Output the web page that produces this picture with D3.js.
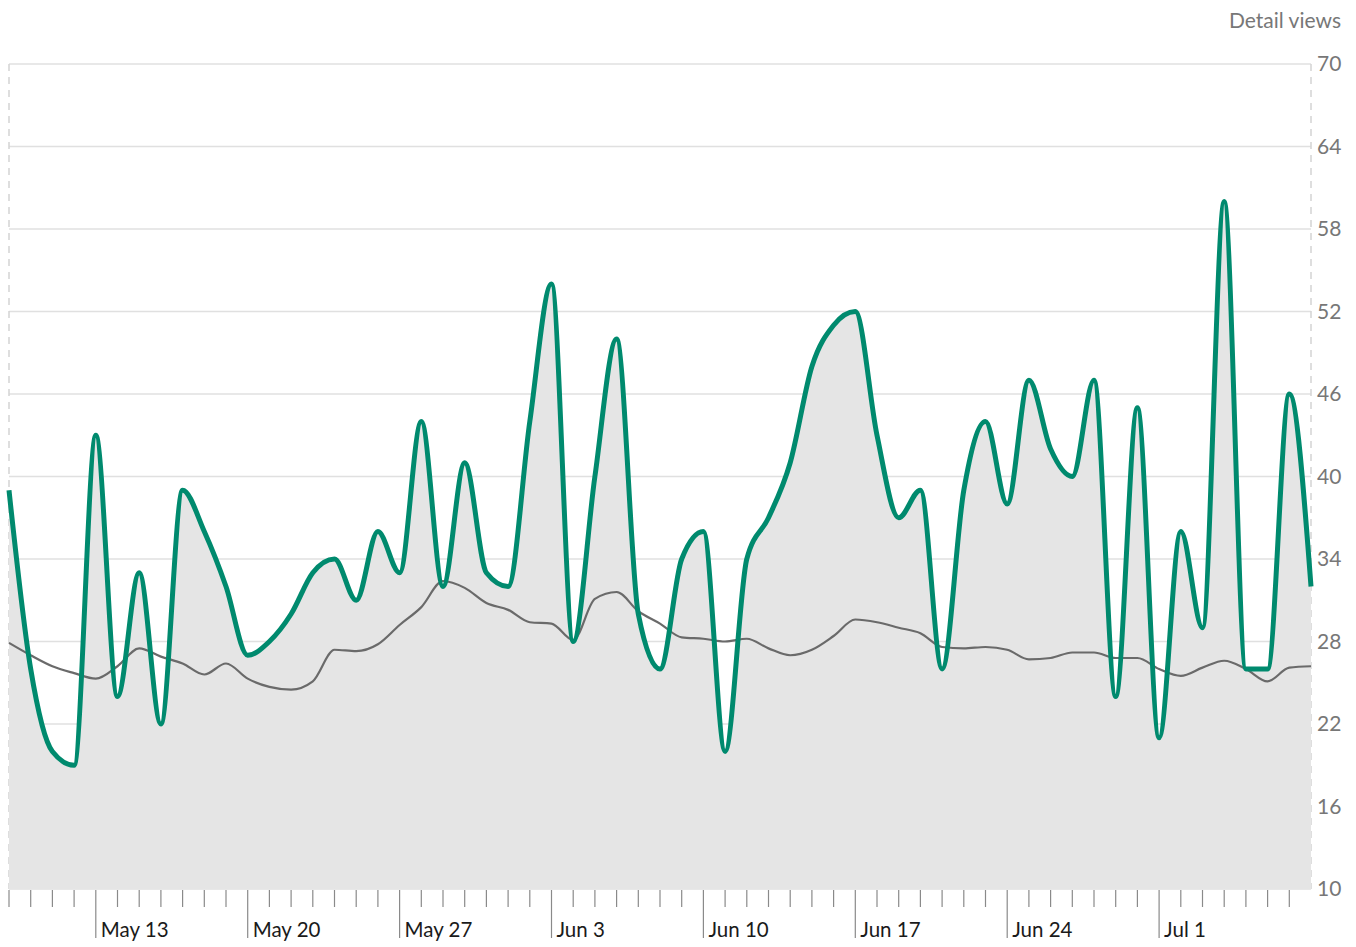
<!DOCTYPE html>
<html>
<head>
<meta charset="utf-8">
<script src="https://cdn.jsdelivr.net/npm/d3@7"></script>
<style>
  body { margin: 0; background: #fff; font-family: Lato, "Open Sans", sans-serif; }
  .grid line { stroke: #e0e0e0; stroke-width: 1.5; }
  .ytick { fill: #777; font-size: 21px; }
  .xlabel { fill: #1a1a1a; font-size: 20.5px; }
</style>
</head>
<body>
<div id="chart"></div>
<script>
// Daily values, one per day starting May 9
const startDate = '2019-05-09';
const detailViews = [39, 26, 20, 19, 43, 24, 33, 22, 39, 36, 32, 27, 28, 30, 33, 34, 31, 36, 33, 44,
    32, 41, 33, 32, 44, 54, 28, 40, 50, 30, 26, 34, 36, 20, 34, 37, 41, 48, 51, 52,
    43, 37, 39, 26, 39, 44, 38, 47, 42, 40, 47, 24, 45, 21, 36, 29, 60, 26, 26, 46, 32];
const averageViews = [27.9, 27.0, 26.2, 25.7, 25.3, 26.2, 27.5, 26.9, 26.4, 25.6, 26.4, 25.3, 24.7, 24.5, 25.1, 27.4,
    27.3, 27.8, 29.2, 30.5, 32.4, 31.9, 30.8, 30.3, 29.4, 29.3, 28.1, 31.1, 31.6, 30.2, 29.3, 28.3,
    28.2, 28.0, 28.2, 27.5, 27.0, 27.4, 28.4, 29.6, 29.4, 29.0, 28.6, 27.6, 27.5, 27.6, 27.4, 26.7,
    26.8, 27.2, 27.2, 26.8, 26.8, 26.0, 25.5, 26.1, 26.6, 26.0, 25.1, 26.1, 26.2];
const yTicks = [10, 16, 22, 28, 34, 40, 46, 52, 58, 64, 70];
const yTitle = 'Detail views';

const width = 1356;
const height = 947;
const margin = { left: 9, right: 1311, top: 64, bottom: 889 };

const start = d3.timeParse('%Y-%m-%d')(startDate);
const days = detailViews.map((v, i) => d3.timeDay.offset(start, i));
const data = days.map((d, i) => ({ date: d, value: detailViews[i], avg: averageViews[i] }));

const x = d3.scaleTime()
    .domain([days[0], days[days.length - 1]])
    .range([margin.left, margin.right]);
const y = d3.scaleLinear()
    .domain([10, 70])
    .range([margin.bottom, margin.top]);

const svg = d3.select('#chart')
    .append('svg')
    .attr('width', width)
    .attr('height', height);

// Horizontal grid lines
svg.append('g')
    .attr('class', 'grid')
    .selectAll('line')
    .data(yTicks)
    .join('line')
    .attr('x1', margin.left)
    .attr('x2', margin.right)
    .attr('y1', d => y(d))
    .attr('y2', d => y(d));

// Dashed frame on both sides
[margin.left, margin.right].forEach(px => {
    svg.append('line')
        .attr('x1', px).attr('x2', px)
        .attr('y1', margin.top).attr('y2', margin.bottom)
        .attr('stroke', '#d4d4d4')
        .attr('stroke-width', 1.5)
        .attr('stroke-dasharray', '7,6');
});

// Area under the daily line
const area = d3.area()
    .x(d => x(d.date))
    .y0(y(10))
    .y1(d => y(d.value))
    .curve(d3.curveMonotoneX);
svg.append('path')
    .datum(data)
    .attr('fill', '#e5e5e5')
    .attr('d', area);

// Average line
const avgLine = d3.line()
    .x(d => x(d.date))
    .y(d => y(d.avg))
    .curve(d3.curveMonotoneX);
svg.append('path')
    .datum(data)
    .attr('fill', 'none')
    .attr('stroke', '#6a6a6a')
    .attr('stroke-width', 2.2)
    .attr('d', avgLine);

// Daily line
const line = d3.line()
    .x(d => x(d.date))
    .y(d => y(d.value))
    .curve(d3.curveMonotoneX);
svg.append('path')
    .datum(data)
    .attr('fill', 'none')
    .attr('stroke', '#008a6e')
    .attr('stroke-width', 5)
    .attr('stroke-linejoin', 'round')
    .attr('d', line);

// Right y axis labels
svg.append('g')
    .selectAll('text')
    .data(yTicks)
    .join('text')
    .attr('class', 'ytick')
    .attr('x', margin.right + 6)
    .attr('y', d => y(d))
    .attr('dy', '0.35em')
    .text(d => d);

svg.append('text')
    .attr('class', 'ytick')
    .attr('x', 1341)
    .attr('y', 28)
    .attr('text-anchor', 'end')
    .text(yTitle);

// Day ticks, Mondays get long ticks and labels
const tickDays = d3.timeDay.range(days[0], days[days.length - 1]);
const isMonday = d => d.getDay() === 1;
svg.append('g')
    .selectAll('line')
    .data(tickDays)
    .join('line')
    .attr('x1', d => x(d))
    .attr('x2', d => x(d))
    .attr('y1', margin.bottom + 1)
    .attr('y2', d => isMonday(d) ? 938 : 907)
    .attr('stroke', '#8a8a8a')
    .attr('stroke-width', 1.2);

svg.append('g')
    .selectAll('text')
    .data(tickDays.filter(isMonday))
    .join('text')
    .attr('class', 'xlabel')
    .attr('x', d => x(d) + 5)
    .attr('y', 937)
    .text(d3.timeFormat('%b %-d'));
</script>
</body>
</html>
